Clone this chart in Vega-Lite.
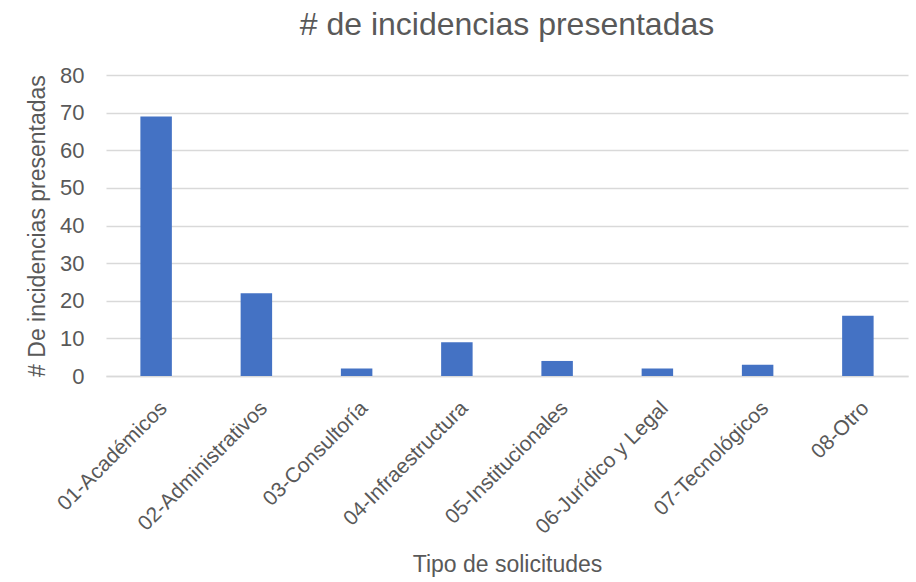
{
  "$schema": "https://vega.github.io/schema/vega-lite/v6.json",
  "width": 802,
  "height": 301,
  "autosize": {"type": "none"},
  "padding": {"left": 106, "right": 8, "top": 75, "bottom": 206},
  "background": "white",
  "title": {
    "text": "# de incidencias presentadas",
    "font": "Liberation Sans",
    "fontSize": 32,
    "fontWeight": "normal",
    "color": "#595959",
    "anchor": "middle",
    "offset": 22
  },
  "data": {
    "values": [
      {"tipo": "01-Académicos", "n": 69},
      {"tipo": "02-Administrativos", "n": 22},
      {"tipo": "03-Consultoría", "n": 2},
      {"tipo": "04-Infraestructura", "n": 9},
      {"tipo": "05-Institucionales", "n": 4},
      {"tipo": "06-Jurídico y Legal", "n": 2},
      {"tipo": "07-Tecnológicos", "n": 3},
      {"tipo": "08-Otro", "n": 16}
    ]
  },
  "mark": {"type": "bar", "color": "#4472C4"},
  "encoding": {
    "x": {
      "field": "tipo",
      "type": "nominal",
      "sort": null,
      "scale": {"paddingInner": 0.686, "paddingOuter": 0.343},
      "axis": {
        "title": "Tipo de solicitudes",
        "titleFont": "Liberation Sans",
        "titleFontSize": 23,
        "titleFontWeight": "normal",
        "titleColor": "#595959",
        "titlePadding": 16,
        "labelAngle": -45,
        "labelFont": "Liberation Sans",
        "labelFontSize": 21,
        "labelColor": "#595959",
        "labelPadding": 21,
        "ticks": false,
        "domain": true,
        "domainColor": "#d9d9d9",
        "domainWidth": 1.5
      }
    },
    "y": {
      "field": "n",
      "type": "quantitative",
      "scale": {"domain": [0, 80]},
      "axis": {
        "title": "# De incidencias presentadas",
        "titleFont": "Liberation Sans",
        "titleFontSize": 23,
        "titleFontWeight": "normal",
        "titleColor": "#595959",
        "titlePadding": 10,
        "values": [0, 10, 20, 30, 40, 50, 60, 70, 80],
        "labelFont": "Liberation Sans",
        "labelFontSize": 22,
        "labelColor": "#595959",
        "labelPadding": 22,
        "ticks": false,
        "domain": false,
        "grid": true,
        "gridColor": "#d9d9d9",
        "gridWidth": 1.5
      }
    }
  },
  "config": {"view": {"stroke": null}}
}
